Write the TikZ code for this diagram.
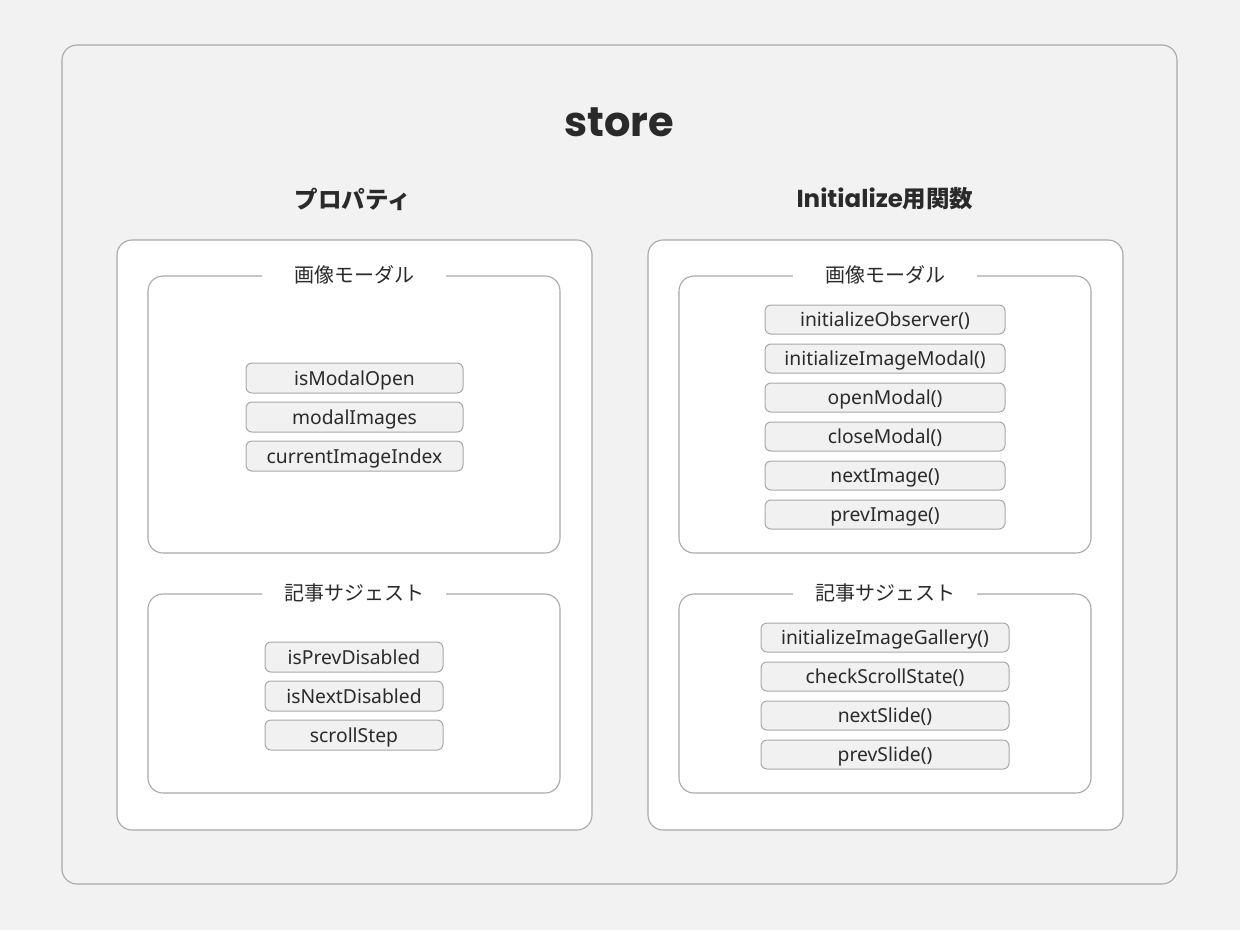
\documentclass[tikz,border=0pt]{standalone}
\usepackage{fontspec}
\setmainfont{Noto Sans CJK JP}
\newfontfamily\poppins{Poppins}
\newfontfamily\itemfont{Noto Sans}
\definecolor{bgc}{HTML}{F2F2F2}
\definecolor{edge}{HTML}{A8A8A8}
\definecolor{itemfill}{HTML}{F1F1F1}
\definecolor{txt}{HTML}{2A2A2A}
\tikzset{
  frame/.style={draw=edge, line width=1.1pt, rounded corners=15},
  panel/.style={frame, fill=white},
  grp/.style={frame, fill=white},
  grplabel/.style={fill=white, minimum width=184, minimum height=22, inner sep=0, text=txt, font=\fontsize{20}{24}\selectfont},
  item/.style={draw=edge, line width=1pt, fill=itemfill, rounded corners=6, minimum height=30, inner sep=0, text height=15, text depth=1, text=txt, font=\itemfont\fontsize{19.3}{22}\selectfont},
  head/.style={text=txt, font=\fontsize{23.5}{28}\selectfont\bfseries},
}
\begin{document}
\begin{tikzpicture}[x=1pt,y=-1pt]
\fill[bgc] (0,0) rectangle (1240,930);
\useasboundingbox (0,0) rectangle (1240,930);
\draw[frame, fill=bgc] (62,45) rectangle (1177,884);
\node[text=txt, font=\poppins\fontsize{41.5}{48}\selectfont\bfseries] (title) at (619,122) {store};
\node[head] (hl) at (353,199) {プロパティ};
\node[head] (hr) at (885,199) {{\poppins\bfseries\fontsize{24.5}{28}\selectfont Initialize}用関数};
% panels
\draw[panel] (117,240) rectangle (592,830);
\draw[panel] (648,240) rectangle (1123,830);
% left groups
\draw[grp] (148,276) rectangle (560,553);
\node[grplabel] (l1) at (354,275) {画像モーダル};
\draw[grp] (148,594) rectangle (560,793);
\node[grplabel] (l2) at (354,593) {記事サジェスト};
% right groups
\draw[grp] (679,276) rectangle (1091,553);
\node[grplabel] (r1) at (885,275) {画像モーダル};
\draw[grp] (679,594) rectangle (1091,793);
\node[grplabel] (r2) at (885,593) {記事サジェスト};
% left items
\node[item, minimum width=217] (a1) at (354.5,378) {isModalOpen};
\node[item, minimum width=217] (a2) at (354.5,417) {modalImages};
\node[item, minimum width=217] (a3) at (354.5,456) {currentImageIndex};
\node[item, minimum width=178] (b1) at (354,657) {isPrevDisabled};
\node[item, minimum width=178] (b2) at (354,696) {isNextDisabled};
\node[item, minimum width=178] (b3) at (354,735) {scrollStep};
% right items
\node[item, minimum width=240, minimum height=29] (c1) at (885,319.5) {initializeObserver()};
\node[item, minimum width=240, minimum height=29] (c2) at (885,358.5) {initializeImageModal()};
\node[item, minimum width=240, minimum height=29] (c3) at (885,397.5) {openModal()};
\node[item, minimum width=240, minimum height=29] (c4) at (885,436.5) {closeModal()};
\node[item, minimum width=240, minimum height=29] (c5) at (885,475.5) {nextImage()};
\node[item, minimum width=240, minimum height=29] (c6) at (885,514.5) {prevImage()};
\node[item, minimum width=248, minimum height=29] (d1) at (885,637.5) {initializeImageGallery()};
\node[item, minimum width=248, minimum height=29] (d2) at (885,676.5) {checkScrollState()};
\node[item, minimum width=248, minimum height=29] (d3) at (885,715.5) {nextSlide()};
\node[item, minimum width=248, minimum height=29] (d4) at (885,754.5) {prevSlide()};
\end{tikzpicture}
\end{document}
